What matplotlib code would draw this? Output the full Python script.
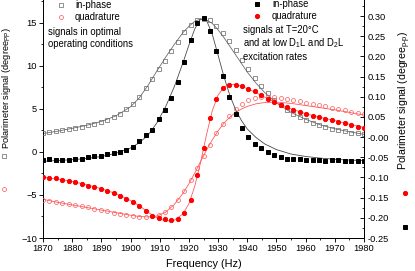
import numpy as np
import matplotlib
matplotlib.use("Agg")
import matplotlib.pyplot as plt
from matplotlib.lines import Line2D

plt.rcParams['font.family'] = ['Liberation Sans', 'DejaVu Sans']
plt.rcParams['mathtext.fontset'] = 'custom'
plt.rcParams['mathtext.rm'] = 'Liberation Sans'
plt.rcParams['mathtext.it'] = 'Liberation Sans:italic'

# measured points, 2.2 Hz step
freq = np.round(np.arange(1870, 1980.1, 2.2), 1)

# optimal conditions (left axis, degree_PP)
inphase_opt = [2.2, 2.3, 2.4, 2.5, 2.65, 2.8, 2.95, 3.1, 3.3, 3.5,
               3.75, 4.05, 4.4, 4.95, 5.6, 6.4, 7.4, 8.5, 9.6, 10.6,
               11.7, 12.8, 13.9, 14.8, 15.4, 15.5, 15.3, 14.7, 13.85, 12.85,
               11.8, 10.7, 9.6, 8.6, 7.7, 6.85, 6.1, 5.45, 4.9, 4.45,
               4.05, 3.7, 3.4, 3.15, 2.9, 2.7, 2.55, 2.4, 2.25, 2.15, 2.05]
quad_opt = [-5.55, -5.7, -5.8, -5.9, -6.05, -6.2, -6.3, -6.45, -6.6, -6.75,
            -6.9, -7.05, -7.2, -7.35, -7.45, -7.55, -7.6, -7.5, -7.3, -6.95,
            -6.4, -5.6, -4.5, -3.3, -1.9, -0.45, 0.85, 2.15, 3.25, 4.2,
            5.0, 5.6, 6.0, 6.3, 6.45, 6.45, 6.4, 6.3, 6.2, 6.05,
            5.9, 5.75, 5.6, 5.45, 5.3, 5.15, 5.0, 4.85, 4.7, 4.55, 4.4]

# T=20 C, low excitation (right axis, degree_p-p)
inphase_20 = [-0.056, -0.055, -0.056, -0.056, -0.056, -0.054, -0.054, -0.050, -0.048, -0.047,
              -0.043, -0.040, -0.036, -0.031, -0.025, -0.010, 0.005, 0.018, 0.045, 0.068,
              0.098, 0.136, 0.185, 0.240, 0.282, 0.295, 0.262, 0.213, 0.152, 0.100,
              0.056, 0.022, 0.000, -0.016, -0.027, -0.038, -0.045, -0.050, -0.055, -0.054,
              -0.055, -0.056, -0.056, -0.057, -0.058, -0.057, -0.057, -0.058, -0.058, -0.058, -0.059]
quad_20 = [-0.100, -0.101, -0.102, -0.106, -0.109, -0.112, -0.116, -0.120, -0.124, -0.128,
           -0.133, -0.139, -0.146, -0.153, -0.161, -0.171, -0.184, -0.196, -0.201, -0.204,
           -0.205, -0.202, -0.187, -0.155, -0.095, -0.028, 0.048, 0.095, 0.121, 0.130,
           0.130, 0.126, 0.120, 0.113, 0.104, 0.094, 0.086, 0.080, 0.074, 0.068,
           0.062, 0.057, 0.053, 0.049, 0.046, 0.042, 0.038, 0.034, 0.030, 0.026, 0.022]

# fitted curves
fit_f = [1870, 1875, 1880, 1885, 1890, 1895, 1900, 1903, 1906, 1909,
         1912, 1915, 1918, 1920, 1922, 1924, 1926, 1928, 1930, 1932,
         1934, 1936, 1938, 1940, 1943, 1946, 1950, 1955, 1960, 1965,
         1970, 1975, 1980]
fit_inphase_opt = [2.15, 2.42, 2.75, 3.1, 3.55, 4.2, 5.25, 6.3, 7.75, 9.4,
                   11.0, 12.5, 13.9, 14.6, 15.2, 15.45, 15.35, 14.95, 14.2, 13.3,
                   12.3, 11.3, 10.3, 9.3, 8.0, 6.9, 5.7, 4.6, 3.8, 3.15,
                   2.7, 2.35, 2.05]
fit_quad_opt = [-5.5, -5.85, -6.15, -6.45, -6.75, -7.05, -7.35, -7.5, -7.55, -7.45,
                -7.0, -6.1, -4.8, -3.7, -2.45, -1.1, 0.2, 1.4, 2.45, 3.35,
                4.05, 4.6, 5.0, 5.3, 5.6, 5.75, 5.8, 5.65, 5.4, 5.15,
                4.9, 4.6, 4.3]
fit_inphase_20 = [-0.060, -0.058, -0.056, -0.053, -0.048, -0.040, -0.027, -0.014, 0.005, 0.035,
                  0.075, 0.125, 0.185, 0.228, 0.268, 0.293, 0.290, 0.255, 0.203, 0.150,
                  0.104, 0.068, 0.041, 0.020, -0.001, -0.017, -0.031, -0.042, -0.048, -0.052,
                  -0.055, -0.057, -0.058]
fit_quad_20 = [-0.099, -0.104, -0.110, -0.118, -0.128, -0.140, -0.157, -0.170, -0.186, -0.200,
               -0.208, -0.206, -0.190, -0.165, -0.122, -0.063, 0.005, 0.065, 0.104, 0.124,
               0.131, 0.130, 0.126, 0.120, 0.110, 0.099, 0.085, 0.070, 0.058, 0.049,
               0.041, 0.032, 0.024]

W, H = 415, 271
GRAY = '#666666'
LRED = '#ff5555'
RED = '#ff0000'


def fp(x, y):
    # pixel -> figure fraction
    return x / W, 1 - y / H


fig = plt.figure(figsize=(W / 72, H / 72), dpi=72)
ax = fig.add_axes([43 / W, 1 - 238 / H, (364 - 43) / W, 238 / H])
ax2 = ax.twinx()

# left axis: optimal conditions
ax.plot(fit_f, fit_inphase_opt, color=GRAY, lw=0.8, zorder=2)
ax.plot(fit_f, fit_quad_opt, color=LRED, lw=0.8, zorder=2)
ax.plot(freq, inphase_opt, ls='none', marker='s', ms=3.4, mfc='none', mec=GRAY, mew=0.7, zorder=3)
ax.plot(freq, quad_opt, ls='none', marker='o', ms=4.0, mfc='none', mec=LRED, mew=0.7, zorder=3)

# right axis: T = 20 C
ax2.plot(fit_f, fit_inphase_20, color='#444444', lw=0.8, zorder=2)
ax2.plot(fit_f, fit_quad_20, color=LRED, lw=0.8, zorder=2)
ax2.plot(freq, inphase_20, ls='none', marker='s', ms=3.4, mfc='black', mec='black', zorder=3)
ax2.plot(freq, quad_20, ls='none', marker='o', ms=4.2, mfc=RED, mec=RED, zorder=3)

ax.set_xlim(1870, 1980)
ax.set_ylim(-10, 17.67)
ax2.set_ylim(-0.25, 0.3397)

ax.set_xticks(np.arange(1870, 1981, 10))
ax.set_xticks(np.arange(1870, 1981, 5), minor=True)
ax.set_yticks([-10, -5, 0, 5, 10, 15])
ax.set_yticks(np.arange(-10, 17.6, 2.5), minor=True)
rticks = np.round(np.arange(-0.25, 0.301, 0.05), 2)
ax2.set_yticks(rticks)
ax2.set_yticks(np.round(np.arange(-0.25, 0.33, 0.025), 3), minor=True)
ax2.set_yticklabels([f"{v:.2f}" for v in rticks])

for a in (ax, ax2):
    a.spines['top'].set_visible(False)
    for s in a.spines.values():
        s.set_linewidth(1.0)
ax.spines['right'].set_visible(False)
ax2.spines['left'].set_visible(False)
ax2.spines['bottom'].set_visible(False)

ax.tick_params(axis='both', which='major', direction='out', length=4, width=0.9, labelsize=9.3, pad=2)
ax.tick_params(axis='both', which='minor', direction='out', length=2.2, width=0.8)
ax2.tick_params(axis='y', which='major', direction='in', length=4, width=0.9, labelsize=9.3, pad=4)
ax2.tick_params(axis='y', which='minor', direction='in', length=2.2, width=0.8)

ax.set_xlabel('Frequency (Hz)', fontsize=11, labelpad=6)

# axis titles with series symbols
fig.text(*fp(6.5, 88), 'Polarimeter signal (degree$_{\\mathrm{PP}}$)', rotation=90,
         ha='center', va='center', fontsize=9.3)
fig.text(*fp(405, 100), 'Polarimeter signal (degree$_{\\mathrm{p\u2010p}}$)',
         rotation=90, ha='center', va='center', fontsize=10.5)
fig.add_artist(Line2D([fp(4, 156)[0]], [fp(4, 156)[1]], transform=fig.transFigure, ls='none',
                      marker='s', ms=3.4, mfc='none', mec=GRAY, mew=0.7))
fig.add_artist(Line2D([fp(4, 189)[0]], [fp(4, 189)[1]], transform=fig.transFigure, ls='none',
                      marker='o', ms=4.0, mfc='none', mec=LRED, mew=0.7))
fig.add_artist(Line2D([fp(405, 193)[0]], [fp(405, 193)[1]], transform=fig.transFigure, ls='none',
                      marker='o', ms=4.2, mfc=RED, mec=RED))
fig.add_artist(Line2D([fp(405, 227)[0]], [fp(405, 227)[1]], transform=fig.transFigure, ls='none',
                      marker='s', ms=3.4, mfc='black', mec='black'))


# legends
def legend_row(x_mark, x_text, y, label, **mk):
    fig.add_artist(Line2D([fp(x_mark, y)[0]], [fp(x_mark, y)[1]], transform=fig.transFigure,
                          ls='none', **mk))
    fig.text(*fp(x_text, y), label, ha='left', va='center', fontsize=9.5)


legend_row(61, 75, 5, 'in-phase', marker='s', ms=3.4, mfc='none', mec=GRAY, mew=0.7)
legend_row(61, 75, 17, 'quadrature', marker='o', ms=4.0, mfc='none', mec=LRED, mew=0.7)
fig.text(*fp(48, 32), 'signals in optimal', ha='left', va='center', fontsize=9.5)
fig.text(*fp(48, 44), 'operating conditions', ha='left', va='center', fontsize=9.5)

legend_row(257, 272, 4, 'in-phase', marker='s', ms=3.4, mfc='black', mec='black')
legend_row(257, 272, 16, 'quadrature', marker='o', ms=4.2, mfc=RED, mec=RED)
fig.text(*fp(243, 30), 'signals at T=20\u00b0C', ha='left', va='center', fontsize=9.5)
fig.text(*fp(243, 43), 'and at low D$_1$L and D$_2$L', ha='left', va='center', fontsize=9.5)
fig.text(*fp(243, 57), 'excitation rates', ha='left', va='center', fontsize=9.5)

fig.savefig('out.png', dpi=72)
